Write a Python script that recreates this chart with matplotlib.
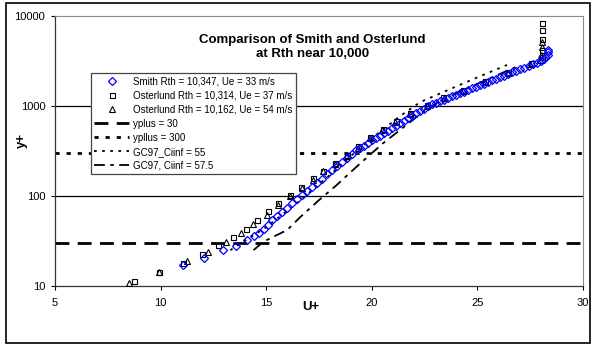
import numpy as np
import matplotlib
matplotlib.use("Agg")
import matplotlib.pyplot as plt
from matplotlib.ticker import FixedLocator, FixedFormatter, NullLocator

plt.rcParams['font.family'] = ['Liberation Sans', 'DejaVu Sans']

# Smith Rth = 10,347 (U+, y+)
smith_u = [11.07, 12.06, 12.96, 13.58, 14.10, 14.43, 14.67, 14.91, 15.09, 15.28,
           15.52, 15.76, 16.00, 16.23, 16.47, 16.71, 16.94, 17.18, 17.42, 17.65,
           17.89, 18.13, 18.36, 18.60, 18.84, 19.08, 19.27, 19.45, 19.64, 19.83,
           20.02, 20.21, 20.40, 20.59, 20.78, 20.97, 21.16, 21.35, 21.54, 21.73,
           21.92, 22.11, 22.30, 22.49, 22.68, 22.87, 23.06, 23.25, 23.44, 23.63,
           23.82, 24.00, 24.19, 24.38, 24.57, 24.76, 24.95, 25.14, 25.33, 25.52,
           25.71, 25.90, 26.09, 26.28, 26.47, 26.66, 26.85, 27.04, 27.23, 27.42,
           27.61, 27.80, 27.99, 28.13, 28.22, 28.32, 28.36, 28.36]
smith_y = [17.1, 20.5, 25.1, 27.8, 32.4, 35.9, 38.8, 43.0, 47.6, 54.1,
           60.1, 66.9, 74.5, 82.8, 92.1, 102.4, 114.0, 126.5, 140.9, 156.4,
           174.2, 193.6, 215.4, 239.3, 266.6, 295.8, 321, 342, 364, 388,
           414, 440, 469, 499, 532, 566, 603, 643, 682, 728,
           776, 826, 879, 938, 1000, 1042, 1086, 1130, 1178, 1227,
           1279, 1332, 1388, 1446, 1506, 1570, 1635, 1703, 1774, 1848,
           1925, 2005, 2089, 2177, 2268, 2362, 2461, 2564, 2671, 2783,
           2899, 3042, 3162, 3327, 3502, 3733, 3981, 4243]

# Osterlund Rth = 10,314
ost1_u = [8.74, 9.93, 11.07, 11.97, 12.73, 13.44, 14.05, 14.57, 15.09, 15.57,
          16.14, 16.66, 17.23, 17.70, 18.27, 18.84, 19.36, 19.93, 20.55, 21.16,
          21.82, 22.63, 23.39, 24.34, 25.38, 26.47, 27.56, 28.08, 28.08, 28.08,
          28.08, 28.08]
ost1_y = [11.4, 14.3, 18.0, 22.7, 28.5, 35, 43, 54, 68, 84,
          103, 126, 158, 190, 232, 285, 355, 452, 556, 681,
          838, 1029, 1259, 1508, 1896, 2386, 3004, 3500, 4180, 5550,
          6990, 8370]

# Osterlund Rth = 10,162
ost2_u = [8.50, 9.93, 11.26, 12.25, 13.10, 13.82, 14.38, 15.05, 15.57, 16.14,
          16.70, 17.20, 17.70, 18.25, 18.80, 19.35, 19.90, 20.50, 21.10, 21.80,
          22.60, 23.40, 24.30, 25.35, 26.45, 27.50, 27.95, 28.00, 28.05, 28.05]
ost2_y = [10.8, 14.3, 19.0, 23.9, 30.8, 38.8, 48.9, 61.6, 80, 100,
          124, 152, 188, 228, 280, 345, 440, 540, 665, 820,
          1010, 1230, 1480, 1860, 2340, 2950, 3260, 3700, 4530, 5150]

# reference lines
yplus30_u = [5, 30]
yplus30_y = [30, 30]
yplus300_u = [5, 30]
yplus300_y = [300, 300]

# GC97 profiles
gc55_u = [13.3, 15.0, 16.5, 18.0, 19.3, 20.4, 21.3, 22.3, 23.7, 25.1, 26.4]
gc55_y = [25, 45, 85, 170, 320, 520, 760, 1107, 1538, 2128, 2856]
gc575_u = [14.4, 14.86, 16.0, 16.6, 17.5, 18.3, 19.36, 20.5, 21.5, 22.4, 23.2,
           24.2, 25.2, 26.3, 26.8]
gc575_y = [25, 31, 42, 58, 90, 130, 220, 380, 580, 850, 1130, 1450, 1850,
           2400, 2700]

fig = plt.figure(figsize=(5.92, 3.49), dpi=100)
ax = fig.add_axes([55 / 592, 63 / 349, 528 / 592, 270 / 349])

# chart area frame
fig.patches.append(plt.Rectangle((6 / 592, 6 / 349), 584 / 592, 340 / 349,
                                 transform=fig.transFigure, fill=False,
                                 edgecolor='black', linewidth=1.2))

for yv in [100, 1000]:
    ax.axhline(yv, color='black', linewidth=0.9, zorder=1)

ax.plot(smith_u, smith_y, linestyle='none', marker='D', markersize=4.2,
        markerfacecolor='none', markeredgecolor='#0000FF', markeredgewidth=0.9,
        label='Smith Rth = 10,347, Ue = 33 m/s', zorder=4)
ax.plot(ost1_u, ost1_y, linestyle='none', marker='s', markersize=3.6,
        markerfacecolor='none', markeredgecolor='black', markeredgewidth=0.8,
        label='Osterlund Rth = 10,314, Ue = 37 m/s', zorder=3)
ax.plot(ost2_u, ost2_y, linestyle='none', marker='^', markersize=4,
        markerfacecolor='none', markeredgecolor='black', markeredgewidth=0.8,
        label='Osterlund Rth = 10,162, Ue = 54 m/s', zorder=3)
ax.plot(yplus30_u, yplus30_y, color='black', linewidth=2, dashes=(5, 3),
        label='yplus = 30', zorder=2)
ax.plot(yplus300_u, yplus300_y, color='black', linewidth=2, dashes=(1.5, 2.5),
        label='ypllus = 300', zorder=2)
ax.plot(gc55_u, gc55_y, color='black', linewidth=1.3, dashes=(1.5, 3),
        label='GC97_Ciinf = 55', zorder=2)
ax.plot(gc575_u, gc575_y, color='black', linewidth=1.3, dashes=(6, 3, 2, 3),
        label='GC97, Ciinf = 57.5', zorder=2)

ax.set_yscale('log')
ax.set_xlim(5, 30)
ax.set_ylim(10, 10000)
ax.xaxis.set_major_locator(FixedLocator([5, 10, 15, 20, 25, 30]))
ax.xaxis.set_major_formatter(FixedFormatter(['5', '10', '15', '20', '25', '30']))
ax.yaxis.set_major_locator(FixedLocator([10, 100, 1000, 10000]))
ax.yaxis.set_major_formatter(FixedFormatter(['10', '100', '1000', '10000']))
ax.yaxis.set_minor_locator(NullLocator())
ax.tick_params(axis='both', labelsize=8, length=3, width=0.8, direction='out',
               pad=4)
ax.tick_params(axis='x', pad=6)

for side in ['left', 'bottom']:
    ax.spines[side].set_color('#333333')
    ax.spines[side].set_linewidth(0.9)
for side in ['top', 'right']:
    ax.spines[side].set_color('#7f8f99')
    ax.spines[side].set_linewidth(0.8)

ax.text(0.487, 0.935, 'Comparison of Smith and Osterlund\nat Rth near 10,000',
        transform=ax.transAxes, ha='center', va='top', fontsize=9.5,
        fontweight='bold', linespacing=1.3)
ax.text(0.485, -0.078, 'U+', transform=ax.transAxes, ha='center', va='center',
        fontsize=9.5, fontweight='bold')
ax.text(-0.0625, 0.54, 'y+', transform=ax.transAxes, ha='center', va='center',
        fontsize=9.5, fontweight='bold', rotation=90)

leg = ax.legend(loc='upper left', bbox_to_anchor=(0.068, 0.789),
                borderaxespad=0, fontsize=7, handlelength=3.6,
                handletextpad=0.4, labelspacing=0.42, borderpad=0.35,
                frameon=True, fancybox=False, framealpha=1)
leg.get_frame().set_edgecolor('#444444')
leg.get_frame().set_linewidth(0.9)

fig.savefig('out.png', dpi=100)
